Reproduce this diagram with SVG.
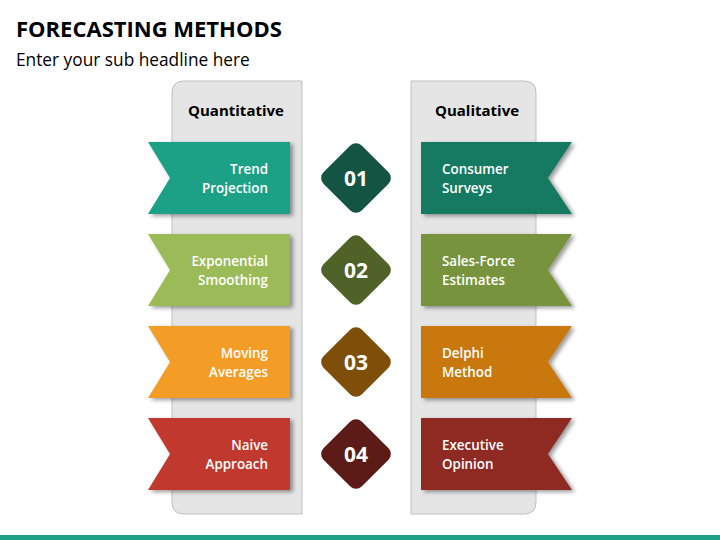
<svg xmlns="http://www.w3.org/2000/svg" width="720" height="540" viewBox="0 0 720 540">
<defs>
<filter id="sh" x="-10%" y="-10%" width="125%" height="130%">
<feGaussianBlur in="SourceAlpha" stdDeviation="2"/>
<feOffset dx="3" dy="2"/>
<feComponentTransfer><feFuncA type="linear" slope="0.4"/></feComponentTransfer>
<feMerge><feMergeNode/><feMergeNode in="SourceGraphic"/></feMerge>
</filter>
<style>
text{font-family:"Open Sans","Liberation Sans",sans-serif;}
.t{font-size:22px;font-weight:bold;fill:#000;}
.s{font-size:17.3px;fill:#000;}
.h{font-size:15px;font-weight:bold;fill:#000;text-anchor:middle;}
.w{font-size:13.4px;font-weight:600;fill:#fff;}
.l{text-anchor:end;}
.n{font-size:21px;font-weight:bold;fill:#fff;text-anchor:middle;}
.panel{fill:#e5e5e5;stroke:#bfbfbf;stroke-width:1;}
</style>
</defs>
<rect width="720" height="540" fill="#fff"/>
<text class="t" x="16" y="37">FORECASTING METHODS</text>
<text class="s" x="16" y="66">Enter your sub headline here</text>
<rect x="0" y="535" width="720" height="5" fill="#1fa187"/>

<g id="panel-quantitative">
<path class="panel" d="M302,81 V514 H184 Q172,514 172,502 V93 Q172,81 184,81 Z"/>
<text class="h" x="236" y="116">Quantitative</text>
</g>
<g id="panel-qualitative">
<path class="panel" d="M411,81 H524 Q536,81 536,93 V502 Q536,514 524,514 H411 Z"/>
<text class="h" x="477" y="116">Qualitative</text>
</g>

<g id="left-1"><path filter="url(#sh)" fill="#1fa187" d="M148,142 H290 V214 H148 L170,178 Z"/><text class="w l" x="268" y="174">Trend</text><text class="w l" x="268" y="193">Projection</text></g>
<g id="left-2"><path filter="url(#sh)" fill="#9bbb59" d="M148,234 H290 V306 H148 L170,270 Z"/><text class="w l" x="268" y="266">Exponential</text><text class="w l" x="268" y="285">Smoothing</text></g>
<g id="left-3"><path filter="url(#sh)" fill="#f39c27" d="M148,326 H290 V398 H148 L170,362 Z"/><text class="w l" x="268" y="358">Moving</text><text class="w l" x="268" y="377">Averages</text></g>
<g id="left-4"><path filter="url(#sh)" fill="#c0392f" d="M148,418 H290 V490 H148 L170,454 Z"/><text class="w l" x="268" y="450">Naive</text><text class="w l" x="268" y="469">Approach</text></g>

<g id="right-1"><path filter="url(#sh)" fill="#177a64" d="M421,142 H572 L548,178 L572,214 H421 Z"/><text class="w" x="442" y="174">Consumer</text><text class="w" x="442" y="193">Surveys</text></g>
<g id="right-2"><path filter="url(#sh)" fill="#77933c" d="M421,234 H572 L548,270 L572,306 H421 Z"/><text class="w" x="442" y="266">Sales-Force</text><text class="w" x="442" y="285">Estimates</text></g>
<g id="right-3"><path filter="url(#sh)" fill="#c8780f" d="M421,326 H572 L548,362 L572,398 H421 Z"/><text class="w" x="442" y="358">Delphi</text><text class="w" x="442" y="377">Method</text></g>
<g id="right-4"><path filter="url(#sh)" fill="#8e2a23" d="M421,418 H572 L548,454 L572,490 H421 Z"/><text class="w" x="442" y="450">Executive</text><text class="w" x="442" y="469">Opinion</text></g>

<g id="num-1"><rect x="329" y="151" width="54" height="54" rx="8" fill="#145443" transform="rotate(45 356 178)"/><text class="n" x="356" y="185.5">01</text></g>
<g id="num-2"><rect x="329" y="243" width="54" height="54" rx="8" fill="#4f6228" transform="rotate(45 356 270)"/><text class="n" x="356" y="277.5">02</text></g>
<g id="num-3"><rect x="329" y="335" width="54" height="54" rx="8" fill="#7f4f0a" transform="rotate(45 356 362)"/><text class="n" x="356" y="369.5">03</text></g>
<g id="num-4"><rect x="329" y="427" width="54" height="54" rx="8" fill="#5c1b17" transform="rotate(45 356 454)"/><text class="n" x="356" y="461.5">04</text></g>
</svg>
